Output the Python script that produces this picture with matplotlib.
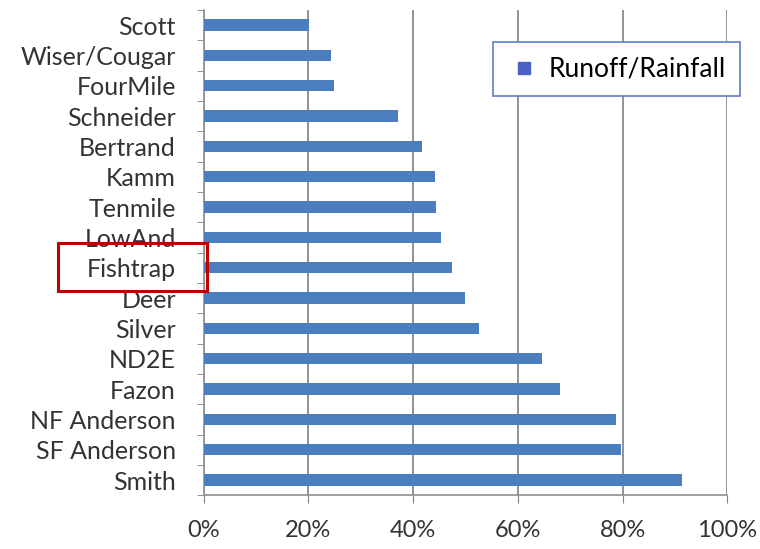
import matplotlib.pyplot as plt
from matplotlib.patches import Rectangle
from matplotlib.lines import Line2D

plt.rcParams['font.family'] = ['Lato', 'DejaVu Sans']

sites = ['Scott', 'Wiser/Cougar', 'FourMile', 'Schneider', 'Bertrand', 'Kamm',
         'Tenmile', 'LowAnd', 'Fishtrap', 'Deer', 'Silver', 'ND2E', 'Fazon',
         'NF Anderson', 'SF Anderson', 'Smith']
ratio = [20.2, 24.3, 24.9, 37.2, 41.6, 44.1, 44.3, 45.4, 47.4, 49.9, 52.6,
         64.6, 68.1, 78.7, 79.7, 91.4]
xticks = [0, 20, 40, 60, 80, 100]
xlabels = ['0%', '20%', '40%', '60%', '80%', '100%']

fig = plt.figure(figsize=(7.6, 5.49), dpi=100)
ax = fig.add_axes([0.268, 0.098, 0.689, 0.884])

ypos = list(range(len(sites)))
ax.barh(ypos, ratio, height=0.37, color='#4a7ebf', zorder=3)

ax.set_xlim(0, 100)
ax.set_ylim(len(sites) - 0.5, -0.5)
ax.set_xticks(xticks)
ax.set_xticklabels(xlabels, fontsize=17, color='#333333')
ax.set_yticks(ypos)
ax.set_yticklabels(sites, fontsize=18, color='#333333')
ax.set_yticks([i + 0.5 for i in range(-1, len(sites))], minor=True)
ax.tick_params(axis='y', which='major', length=0, pad=20)
ax.tick_params(axis='y', which='minor', length=5, color='#808080')
ax.tick_params(axis='x', length=6, color='#808080', pad=12)

ax.grid(axis='x', color='#808080', linewidth=1.2, zorder=0)
for s in ['top', 'right']:
    ax.spines[s].set_visible(False)
for s in ['left', 'bottom']:
    ax.spines[s].set_color('#909090')
    ax.spines[s].set_linewidth(1.2)

handle = Line2D([], [], marker='s', markersize=8, linestyle='none', color='#4a62c4')
leg = ax.legend([handle], ['Runoff/Rainfall'], loc='upper right',
                bbox_to_anchor=(0.974, 0.923), bbox_transform=fig.transFigure,
                fontsize=19, fancybox=False, handlelength=1.25, borderaxespad=0,
                borderpad=0.55, handletextpad=0.32)
leg.get_frame().set_edgecolor('#5b7fc7')
leg.get_frame().set_linewidth(1.2)
leg.get_frame().set_alpha(1)

fig.patches.append(Rectangle((0.0763, 0.470), 0.196, 0.0874, transform=fig.transFigure,
                             fill=False, edgecolor='#c00000', linewidth=2.2))

plt.savefig('out.png')
